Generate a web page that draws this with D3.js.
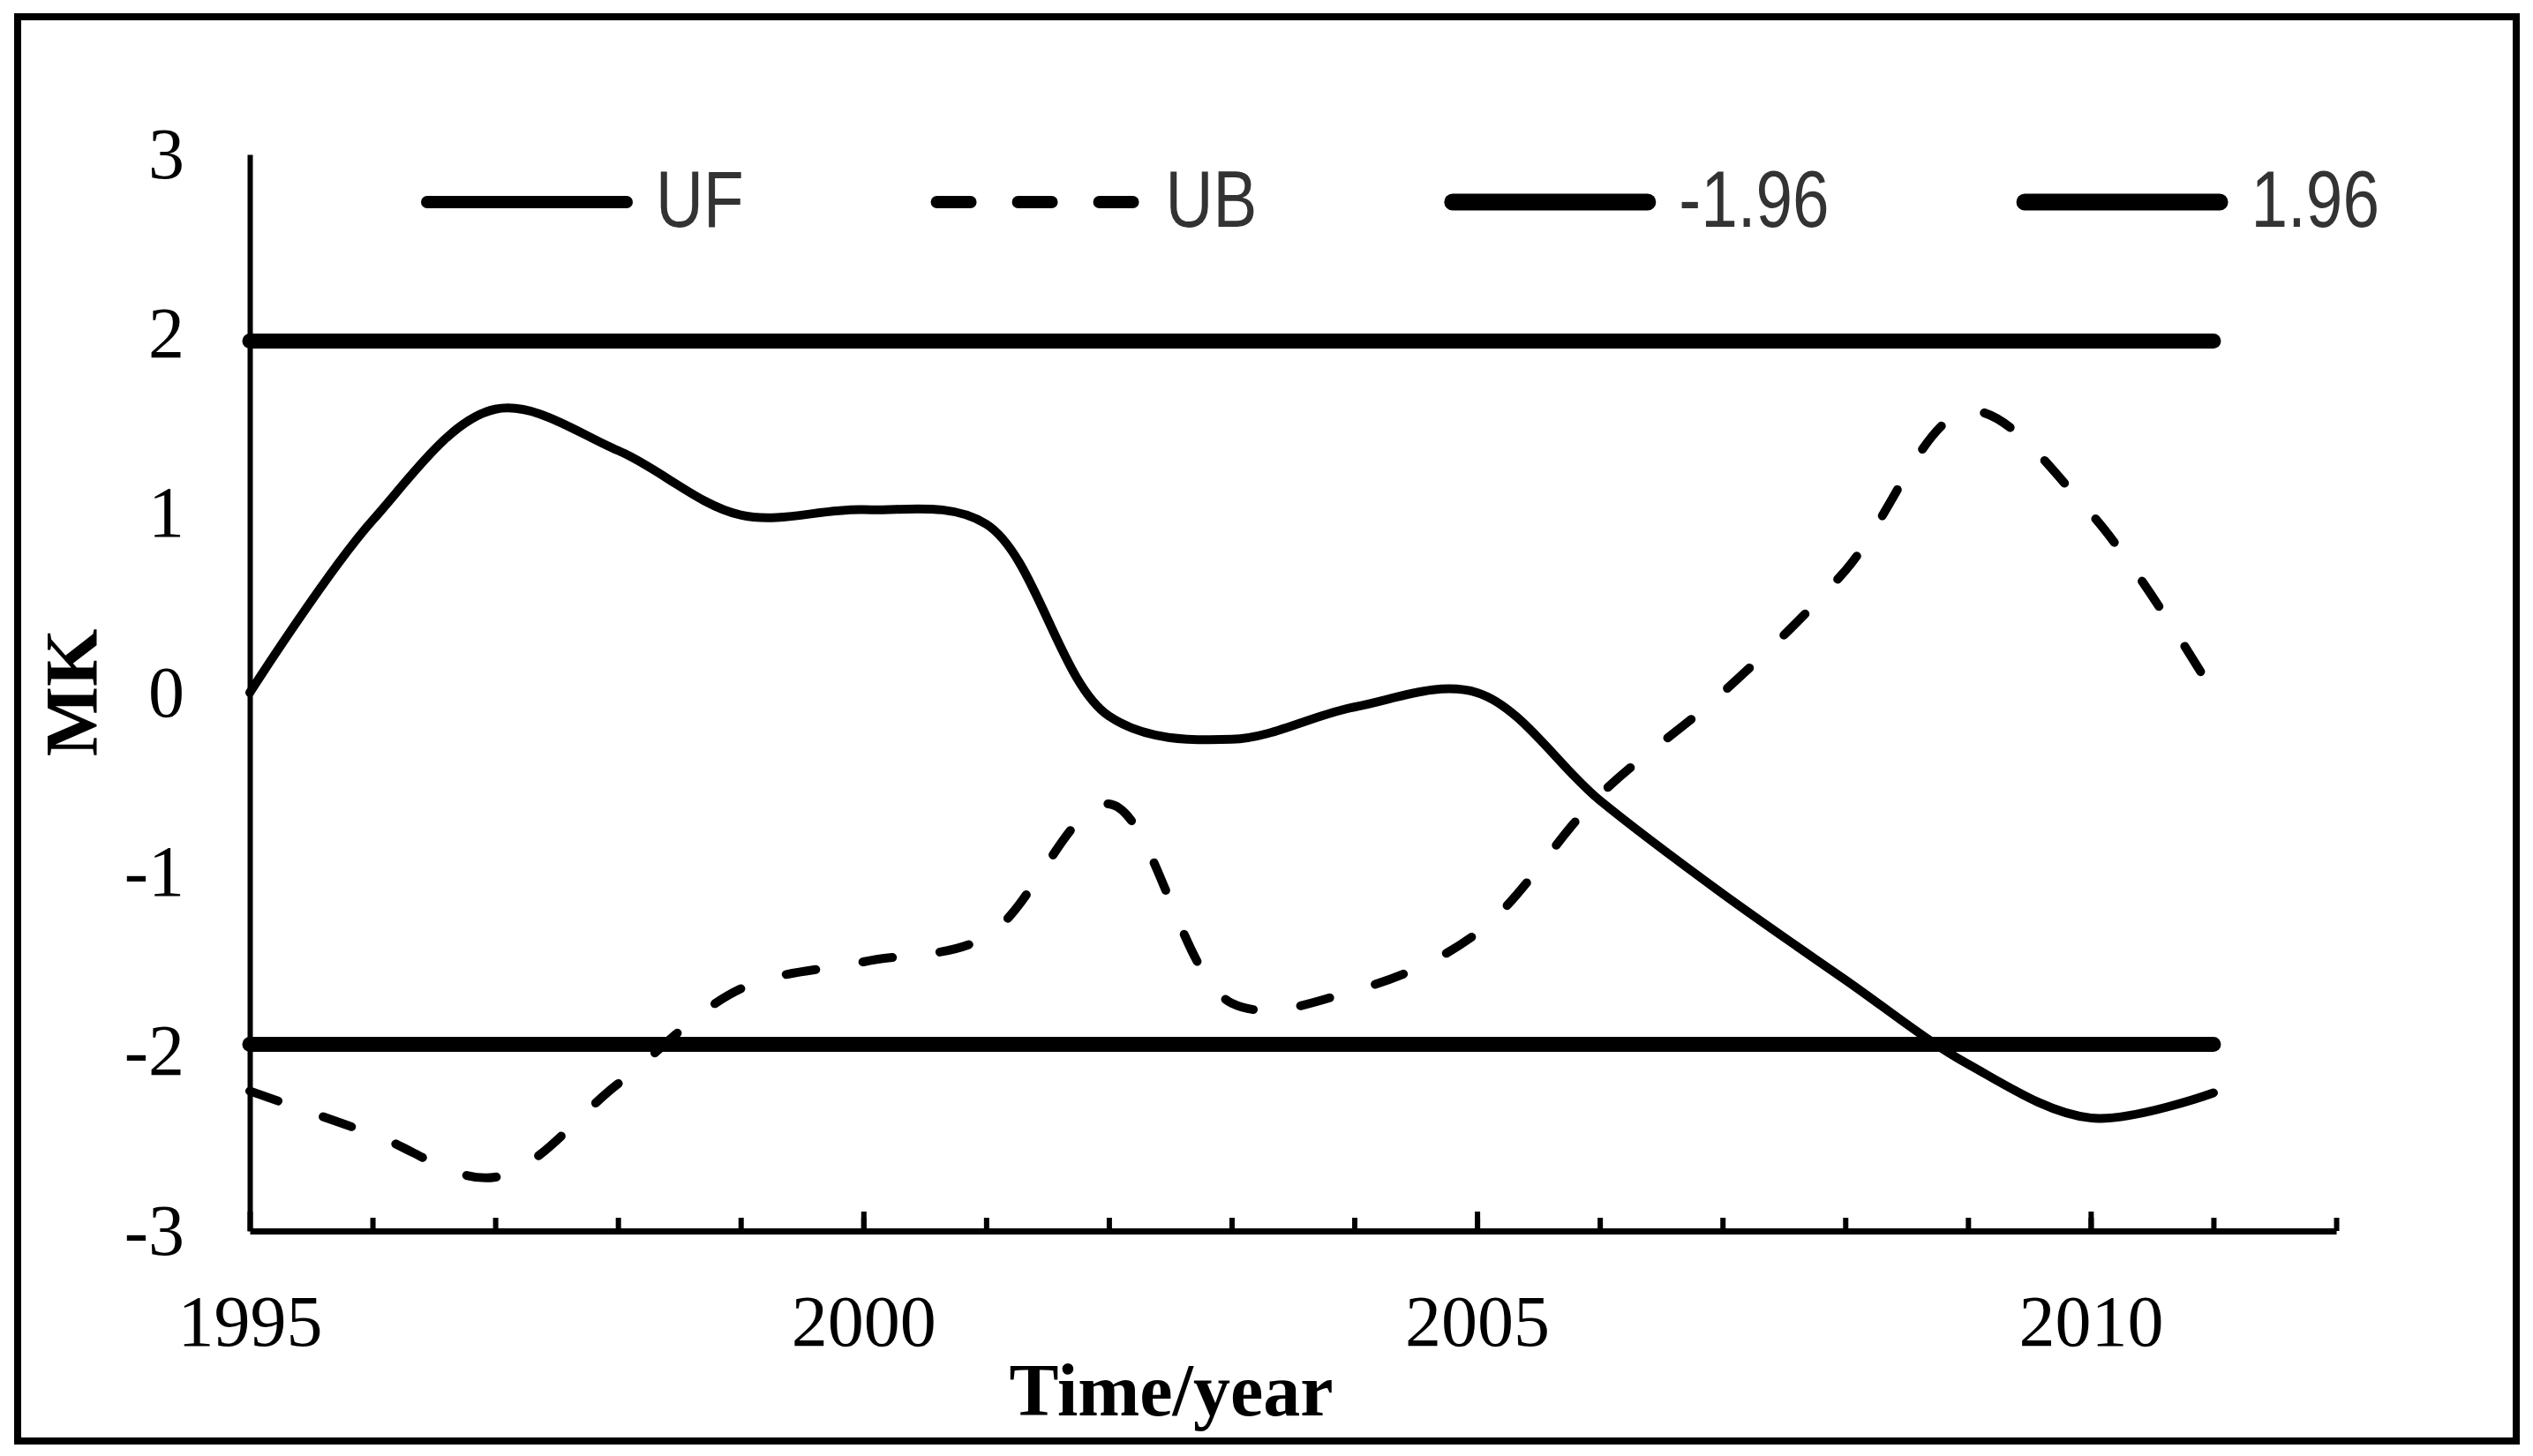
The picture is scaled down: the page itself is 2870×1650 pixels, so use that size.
<!DOCTYPE html>
<html>
<head>
<meta charset="utf-8">
<script src="https://cdn.jsdelivr.net/npm/d3@7"></script>
<style>
    body { margin: 0; background: #fff; }
    .tick-label { font-family: "Liberation Serif", "Times New Roman", serif; font-size: 82px; fill: #000; }
    .axis-title { font-family: "Liberation Serif", "Times New Roman", serif; font-size: 84px; font-weight: bold; fill: #000; }
    .legend-label { font-family: "Liberation Sans", Arial, sans-serif; font-size: 90px; fill: #333; }
</style>
</head>
<body>
<div class="mk-chart"></div>
<script>
"use strict";

// Mann-Kendall statistics per year
const years = [1995, 1996, 1997, 1998, 1999, 2000, 2001, 2002, 2003, 2004, 2005, 2006, 2007, 2008, 2009, 2010, 2011];
const uf_values = [0, 0.96, 1.58, 1.35, 0.99, 1.02, 0.94, -0.13, -0.26, -0.08, 0.0, -0.6, -1.12, -1.6, -2.07, -2.37, -2.23];
const ub_values = [-2.22, -2.46, -2.7, -2.18, -1.65, -1.5, -1.36, -0.62, -1.73, -1.66, -1.34, -0.57, 0.0, 0.68, 1.57, 1.0, 0.0];
const thresholds = [-1.96, 1.96];
const y_ticks = [-3, -2, -1, 0, 1, 2, 3];
const x_label_years = [1995, 2000, 2005, 2010];
const legend_names = ["UF", "UB", "-1.96", "1.96"];

window.onload = () => main();

function main() {
    const config = {
        width: 2870,
        height: 1650,
        left: 283,
        right: 2647,
        top: 175,
        bottom: 1395
    };
    create_mk_chart(config);
}

function create_mk_chart(config) {
    const svg = d3.select(".mk-chart")
        .append("svg")
        .attr("width", config.width)
        .attr("height", config.height);

    // frame round the whole figure
    svg.append("rect")
        .attr("x", 20)
        .attr("y", 19)
        .attr("width", 2831)
        .attr("height", 1614)
        .attr("fill", "none")
        .attr("stroke", "#000")
        .attr("stroke-width", 8);

    const x = d3.scaleLinear().domain([1995, 2012]).range([config.left, config.right]);
    const y = d3.scaleLinear().domain([-3, 3]).range([config.bottom, config.top]);

    // minor year ticks, pointing up into the plot
    const minor_axis = svg.append("g")
        .attr("transform", `translate(0,${config.bottom})`)
        .call(d3.axisBottom(x).tickValues(d3.range(1996, 2013)).tickSize(-15).tickSizeOuter(0).tickFormat(""));
    minor_axis.select(".domain").attr("stroke-width", 7);
    minor_axis.selectAll(".tick line").attr("stroke-width", 6);

    // major ticks with the year labels
    const major_axis = svg.append("g")
        .attr("transform", `translate(0,${config.bottom})`)
        .call(d3.axisBottom(x).tickValues(x_label_years).tickSize(-22).tickSizeOuter(0).tickFormat((d) => String(d)));
    major_axis.select(".domain").remove();
    major_axis.selectAll(".tick line").attr("stroke-width", 6);
    major_axis.selectAll(".tick text")
        .attr("class", "tick-label")
        .attr("y", 130)
        .attr("dy", 0)
        .attr("font-size", null)
        .attr("font-family", null);

    // plain hyphen for negatives, as in the original
    const y_axis = svg.append("g")
        .attr("transform", `translate(${config.left},0)`)
        .call(d3.axisLeft(y).tickValues(y_ticks).tickSize(0).tickSizeOuter(0).tickPadding(74).tickFormat((d) => String(d)));
    y_axis.select(".domain").attr("stroke-width", 6);
    y_axis.selectAll(".tick text")
        .attr("class", "tick-label")
        .attr("dy", 26)
        .attr("font-size", null)
        .attr("font-family", null);

    svg.append("text")
        .attr("class", "axis-title")
        .attr("text-anchor", "middle")
        .attr("transform", `translate(110,${y(0)}) rotate(-90)`)
        .text("MK");

    svg.append("text")
        .attr("class", "axis-title")
        .attr("text-anchor", "middle")
        .attr("x", 1327)
        .attr("y", 1604)
        .text("Time/year");

    // significance levels
    const first_year = years[0];
    const last_year = years[years.length - 1];
    const flat = d3.line().x((d) => x(d[0])).y((d) => y(d[1]));
    svg.selectAll(".threshold")
        .data(thresholds)
        .enter()
        .append("path")
        .attr("class", "threshold")
        .attr("d", (t) => flat([[first_year, t], [last_year, t]]))
        .attr("fill", "none")
        .attr("stroke", "#000")
        .attr("stroke-width", 17)
        .attr("stroke-linecap", "round");

    const smooth = d3.line()
        .x((d) => x(d.year))
        .y((d) => y(d.value))
        .curve(d3.curveCatmullRom);

    const uf_data = years.map((year, i) => ({ year: year, value: uf_values[i] }));
    const ub_data = years.map((year, i) => ({ year: year, value: ub_values[i] }));

    svg.append("path")
        .datum(uf_data)
        .attr("d", smooth)
        .attr("fill", "none")
        .attr("stroke", "#000")
        .attr("stroke-width", 10)
        .attr("stroke-linecap", "round");

    svg.append("path")
        .datum(ub_data)
        .attr("d", smooth)
        .attr("fill", "none")
        .attr("stroke", "#000")
        .attr("stroke-width", 10)
        .attr("stroke-linecap", "round")
        .attr("stroke-dasharray", "34,54");

    // legend laid out left to right, each entry after the previous label;
    // the label font is squeezed sideways like the narrow original
    const squeeze = 0.83;
    const legend_styles = [
        { width: 14, dash: null },
        { width: 14, dash: "38,54" },
        { width: 19, dash: null },
        { width: 19, dash: null }
    ];
    const legend = svg.append("g").attr("class", "legend");
    let cursor = 477;
    legend_names.forEach((name, i) => {
        const style = legend_styles[i];
        const line = legend.append("line")
            .attr("x1", cursor + style.width / 2)
            .attr("x2", cursor + 240 - style.width / 2)
            .attr("y1", 229)
            .attr("y2", 229)
            .attr("stroke", "#000")
            .attr("stroke-width", style.width)
            .attr("stroke-linecap", "round");
        if (style.dash) line.attr("stroke-dasharray", style.dash);
        const text_x = cursor + 240 + 26;
        const label = legend.append("text")
            .attr("class", "legend-label")
            .attr("transform", `translate(${text_x},257) scale(${squeeze},1)`)
            .text(name);
        cursor = text_x + label.node().getComputedTextLength() * squeeze + 212;
    });
}
</script>
</body>
</html>
